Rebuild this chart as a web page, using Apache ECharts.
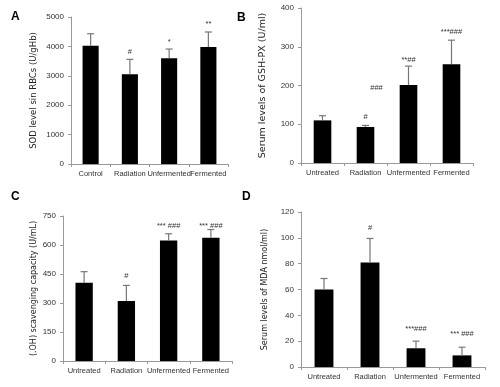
<!DOCTYPE html>
<html lang="en">
<head>
  <meta charset="utf-8">
  <script src="https://cdn.jsdelivr.net/npm/echarts@6.0.0/dist/echarts.min.js"></script>
  <style>
    html, body { margin: 0; padding: 0; background: #fff; }
  </style>
</head>
<body>
  <div id="chart" style="width: 500px; height: 387px;"></div>

  <script type="text/javascript">

    // panel A
    var catsA = ['Control', 'Radiation', 'Unfermented', 'Fermented'];
    var meanA = [4020, 3050, 3600, 3980];
    var errA = [410, 510, 310, 510];
    var starsA = ['', '#', '*', '**'];
    var starsAy = [0, 3810, 4150, 4760];

    // panel B
    var catsB = ['Untreated', 'Radiation', 'Unfermented', 'Fermented'];
    var meanB = [110, 93, 201, 255];
    var errB = [12, 4, 49, 62];
    var starsB = ['', '#', '**##', '***###'];
    var starsBy = [0, 119, 265, 338];
    var floatB = { text: '###', cat: 1, y: 193 };

    // panel C
    var catsC = ['Untreated', 'Radiation', 'Unfermented', 'Fermented'];
    var meanC = [405, 310, 623, 637];
    var errC = [57, 81, 35, 43];
    var starsC = ['', '#', '*** ###', '*** ###'];
    var starsCy = [0, 438, 697, 697];

    // panel D
    var catsD = ['Untreated', 'Radiation', 'Unfermented', 'Fermented'];
    var meanD = [60, 81, 14.5, 9];
    var errD = [8.5, 18.5, 5.5, 6.3];
    var starsD = ['', '#', '***###', '*** ###'];
    var starsDy = [0, 108, 29.5, 25.6];

    var panels = [
      { cats: catsA, mean: meanA, err: errA, stars: starsA, starsY: starsAy, max: 5000, step: 1000,
        name: 'SOD level sin RBCs (U/gHb)', gap: 33, nameSize: 8.5,
        grid: { left: 71, top: 17, width: 157, height: 147 } },
      { cats: catsB, mean: meanB, err: errB, stars: starsB, starsY: starsBy, max: 400, step: 100,
        name: 'Serum levels of GSH-PX (U/ml)', gap: 33, nameSize: 9.5,
        grid: { left: 301, top: 8, width: 172, height: 155 } },
      { cats: catsC, mean: meanC, err: errC, stars: starsC, starsY: starsCy, max: 750, step: 150,
        name: '(.OH) scavenging capacity (U/mL)', gap: 25, nameSize: 8,
        grid: { left: 63, top: 216, width: 169, height: 145 } },
      { cats: catsD, mean: meanD, err: errD, stars: starsD, starsY: starsDy, max: 120, step: 20,
        name: 'Serum levels of MDA nmol/ml)', gap: 32, nameSize: 8,
        grid: { left: 301, top: 212, width: 184, height: 155 } }
    ];

    var grids = [], xAxes = [], yAxes = [], series = [];

    panels.forEach(function (p, i) {
      grids.push(p.grid);
      xAxes.push({
        type: 'category',
        gridIndex: i,
        data: p.cats,
        axisLine: { lineStyle: { color: '#999' } },
        axisTick: { show: true, length: 3, lineStyle: { color: '#999' } },
        axisLabel: { color: '#333', fontSize: 7.5, margin: 6, interval: 0, fontFamily: 'Liberation Sans' }
      });
      yAxes.push({
        type: 'value',
        gridIndex: i,
        min: 0,
        max: p.max,
        interval: p.step,
        name: p.name,
        nameLocation: 'middle',
        nameGap: p.gap,
        nameTextStyle: { color: '#222', fontSize: p.nameSize, fontFamily: 'DejaVu Sans' },
        axisLine: { show: true, lineStyle: { color: '#999' } },
        axisTick: { show: true, length: 3, lineStyle: { color: '#999' } },
        axisLabel: {
          color: '#333', fontSize: 8, margin: 7, fontFamily: 'Liberation Sans',
          formatter: function (v) { return String(v); }
        },
        splitLine: { show: false }
      });

      var marks = [];
      p.stars.forEach(function (s, k) {
        if (s) {
          marks.push({ coord: [k, p.starsY[k]], value: s });
        }
      });
      if (i === 1) {
        marks.push({ coord: [floatB.cat, floatB.y], value: floatB.text, label: { offset: [11, 0] } });
      }

      series.push({
        type: 'bar',
        xAxisIndex: i,
        yAxisIndex: i,
        data: p.mean,
        barWidth: '41%',
        itemStyle: { color: '#000' },
        markPoint: {
          symbol: 'circle',
          symbolSize: 0,
          data: marks,
          label: {
            show: true,
            position: 'inside',
            formatter: function (d) { return d.value; },
            color: '#333',
            fontSize: 7.5,
            fontFamily: 'Liberation Sans'
          }
        },
        z: 2
      });

      var errData = p.mean.map(function (m, k) { return [k, m, m + p.err[k]]; });
      series.push({
        type: 'custom',
        xAxisIndex: i,
        yAxisIndex: i,
        data: errData,
        z: 3,
        renderItem: function (params, api) {
          var lo = api.coord([api.value(0), api.value(1)]);
          var hi = api.coord([api.value(0), api.value(2)]);
          var half = 3.5;
          return {
            type: 'group',
            children: [
              { type: 'line', shape: { x1: lo[0], y1: lo[1], x2: hi[0], y2: hi[1] },
                style: { stroke: '#777', lineWidth: 1.2 } },
              { type: 'line', shape: { x1: hi[0] - half, y1: hi[1], x2: hi[0] + half, y2: hi[1] },
                style: { stroke: '#777', lineWidth: 1.2 } }
            ]
          };
        }
      });
    });

    var chart = echarts.init(document.getElementById('chart'));
    chart.setOption({
      animation: false,
      backgroundColor: '#fff',
      grid: grids,
      xAxis: xAxes,
      yAxis: yAxes,
      series: series,
      title: [
        { text: 'A', left: 11, top: 11 },
        { text: 'B', left: 237, top: 12 },
        { text: 'C', left: 11, top: 191 },
        { text: 'D', left: 242, top: 191 }
      ].map(function (t) {
        t.textStyle = { fontSize: 12, fontWeight: 'bold', color: '#000', fontFamily: 'Liberation Sans' };
        t.padding = 0;
        return t;
      })
    });
  </script>
</body>
</html>
